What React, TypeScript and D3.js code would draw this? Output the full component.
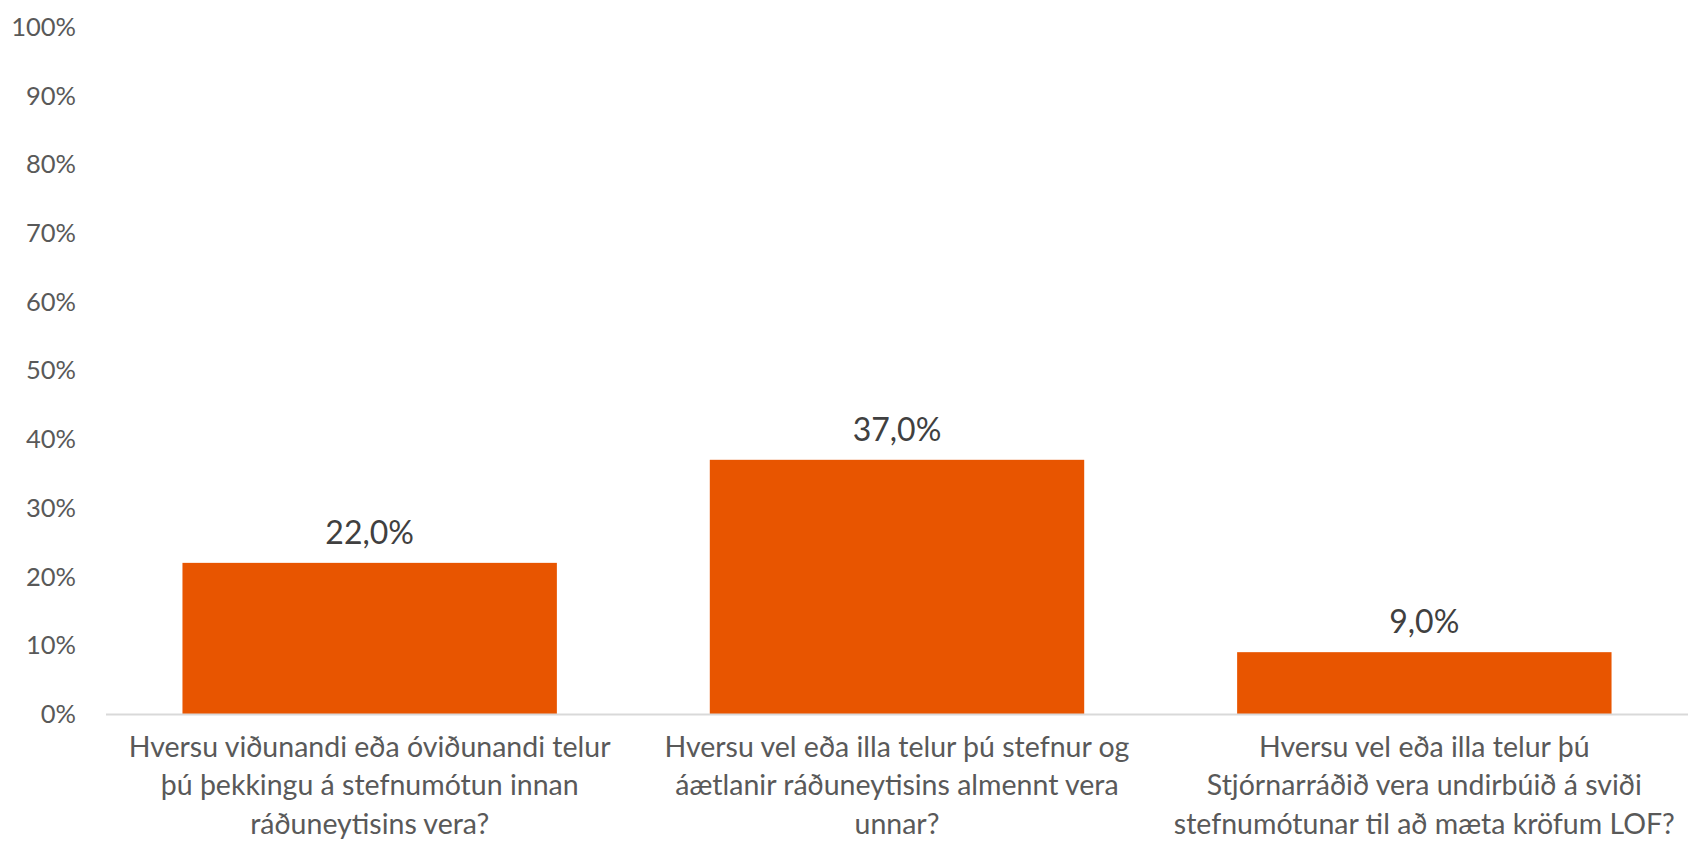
import React, { useEffect, useRef } from "react";
import * as d3 from "d3";

const categories: string[][] = [
  ["Hversu viðunandi eða óviðunandi telur", "þú þekkingu á stefnumótun innan", "ráðuneytisins vera?"],
  ["Hversu vel eða illa telur þú stefnur og", "áætlanir ráðuneytisins almennt vera", "unnar?"],
  ["Hversu vel eða illa telur þú", "Stjórnarráðið vera undirbúið á sviði", "stefnumótunar til að mæta kröfum LOF?"],
];
const values: number[] = [0.22, 0.37, 0.09];
const yTicks: number[] = [0, 0.1, 0.2, 0.3, 0.4, 0.5, 0.6, 0.7, 0.8, 0.9, 1.0];

const W = 1688;
const H = 843;
const FONT = "Lato, 'Open Sans', sans-serif";

export default function App() {
  const ref = useRef<SVGSVGElement>(null);
  useEffect(() => {
    const svg = d3.select(ref.current);
    svg.selectAll("*").remove();
    const left = 106, right = 1688, top = 27, bottom = 714;
    const x = d3.scaleBand<number>().domain(d3.range(values.length)).range([left, right]).paddingInner(0.29).paddingOuter(0.145);
    const y = d3.scaleLinear().domain([0, 1]).range([bottom, top]);

    // y tick labels
    svg.append("g").selectAll("text").data(yTicks).join("text")
      .attr("x", 76).attr("y", (d) => y(d)).attr("dy", "0.35em")
      .attr("text-anchor", "end").attr("font-family", FONT).attr("font-size", 25.5)
      .attr("fill", "#595959").text((d) => `${Math.round(d * 100)}%`);

    // bars
    svg.append("g").selectAll("rect").data(values).join("rect")
      .attr("x", (_, i) => x(i)!).attr("width", x.bandwidth())
      .attr("y", (d) => y(d)).attr("height", (d) => bottom - y(d))
      .attr("fill", "#E85500");

    // axis line
    svg.append("line").attr("x1", left).attr("x2", right).attr("y1", bottom + 0.5).attr("y2", bottom + 0.5)
      .attr("stroke", "#d9d9d9").attr("stroke-width", 2);

    // data labels
    svg.append("g").selectAll("text").data(values).join("text")
      .attr("x", (_, i) => x(i)! + x.bandwidth() / 2).attr("y", (d) => y(d) - 19)
      .attr("text-anchor", "middle").attr("font-family", FONT).attr("font-size", 32)
      .attr("fill", "#404040").text((d) => `${(d * 100).toFixed(1).replace(".", ",")}%`);

    // category labels
    const cg = svg.append("g").selectAll("text").data(categories).join("text")
      .attr("text-anchor", "middle").attr("font-family", FONT).attr("font-size", 28.5)
      .attr("fill", "#595959");
    cg.each(function (lines, i) {
      const t = d3.select(this);
      lines.forEach((ln, j) => {
        t.append("tspan").attr("x", x(i)! + x.bandwidth() / 2).attr("y", 757 + j * 38.3).text(ln);
      });
    });
  }, []);
  return (
    <svg ref={ref} width={W} height={H} style={{ position: "absolute", left: 0, top: 0, background: "#fff" }} />
  );
}
